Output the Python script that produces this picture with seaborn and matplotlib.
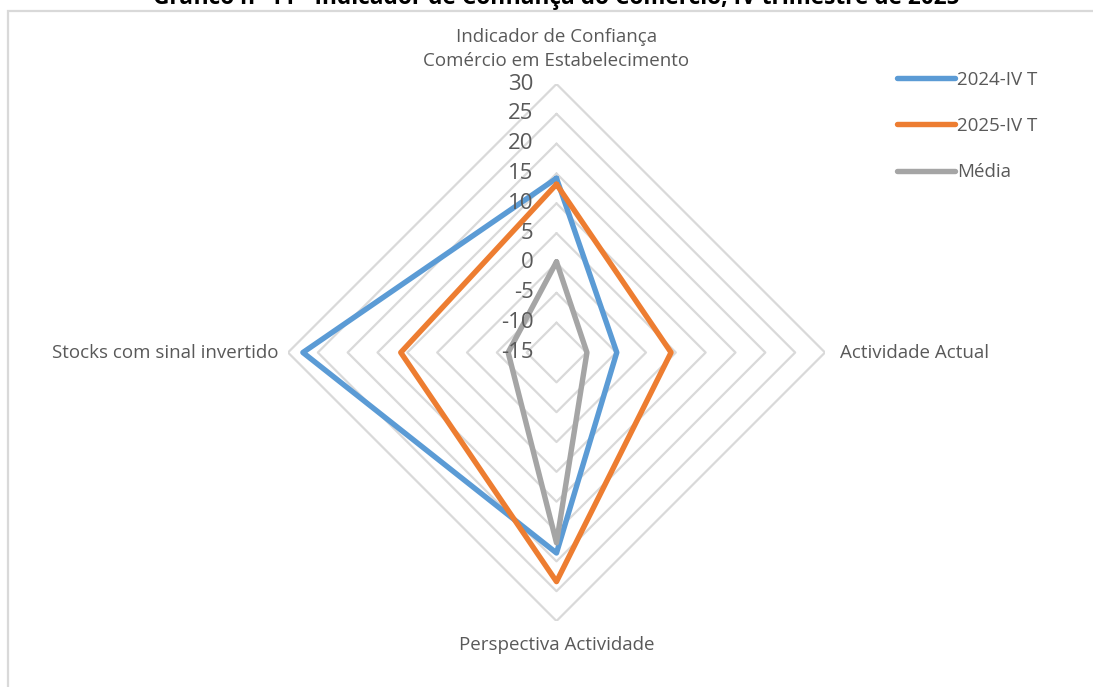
import numpy as np
import pandas as pd
import matplotlib
matplotlib.use("Agg")
import matplotlib.pyplot as plt
import matplotlib.transforms as mtransforms
import seaborn as sns

# dados
categorias = ["Indicador de Confiança\nComércio em Estabelecimento", "Actividade Actual",
              "Perspectiva Actividade", "Stocks com sinal invertido"]
series = ["2024-IV T", "2025-IV T", "Média"]
v2024 = [14.2, -4.9, 18.6, 27.5]
v2025 = [13.2, 4.2, 23.4, 11.1]
media = [0.2, -9.9, 16.9, -6.9]
aneis = [-15, -10, -5, 0, 5, 10, 15, 20, 25, 30]

cores = {"2024-IV T": "#5b9bd5", "2025-IV T": "#ed7d31", "Média": "#a5a5a5"}
cinza_txt = "#595959"

sns.set_style("white")
plt.rcParams["font.family"] = ["Open Sans", "DejaVu Sans"]

theta = np.arange(len(categorias)) * np.pi / 2
theta_fechado = np.append(theta, 2 * np.pi)

linhas = []
for nome, vals in zip(series, [v2024, v2025, media]):
    for t, v in zip(theta_fechado, vals + vals[:1]):
        linhas.append({"serie": nome, "theta": t, "valor": v})
df = pd.DataFrame(linhas)

fig = plt.figure(figsize=(10.93, 6.87), dpi=100)
W, H = 1093, 687
cx, cy, rad = 556.5, 352.5, 268.5
ax = fig.add_axes([(cx - rad) / W, (H - cy - rad) / H, 2 * rad / W, 2 * rad / H],
                  projection="polar")
ax.set_theta_zero_location("N")
ax.set_theta_direction(-1)
ax.set_ylim(-15, 30)
ax.grid(False)
ax.spines["polar"].set_visible(False)
ax.set_xticks([])
ax.set_yticks([])
ax.patch.set_alpha(0)

# grelha em losango (sem raios)
for r in aneis[1:]:
    ax.plot(theta_fechado, [r] * len(theta_fechado), color="#d9d9d9", lw=1.6, zorder=1)

sns.lineplot(data=df, x="theta", y="valor", hue="serie", palette=cores, sort=False,
             estimator=None, lw=3.9, ax=ax, zorder=3, legend=True)
ax.set_xlabel("")
ax.set_ylabel("")

off = mtransforms.offset_copy(ax.transData, fig=fig, x=-23, y=0, units="dots")
for r in aneis:
    ax.text(0, r, str(r), transform=off, ha="right", va="center",
            fontsize=16, color=cinza_txt, zorder=5)

fs = 13.5
fig.text(cx / W, 1 - 49 / H, categorias[0], ha="center", va="center",
         fontsize=fs, color=cinza_txt, linespacing=1.45)
fig.text(840 / W, 1 - cy / H, categorias[1], ha="left", va="center",
         fontsize=fs, color=cinza_txt)
fig.text(cx / W, 1 - 645 / H, categorias[2], ha="center", va="center",
         fontsize=fs, color=cinza_txt)
fig.text(279 / W, 1 - cy / H, categorias[3], ha="right", va="center",
         fontsize=fs, color=cinza_txt)

leg = ax.get_legend()
handles = leg.legend_handles
leg.remove()
fig.legend(handles, series, loc="upper left", bbox_to_anchor=(880 / W, 1 - 54 / H),
           frameon=False, fontsize=fs, handlelength=3.1, handletextpad=0.1,
           labelspacing=1.5, labelcolor=cinza_txt)

# moldura e título cortado
fig.patches.append(plt.Rectangle((8 / W, -0.05), 1.1, 1.05 - 11 / H, transform=fig.transFigure,
                                 fill=False, edgecolor="#d9d9d9", lw=1.6))
fig.text(556 / W, 1 - 4 / H,
         "Gráfico nº 11 - Indicador de Confiança do Comércio, IV trimestre de 2025",
         ha="center", va="baseline", fontsize=16.3, fontweight="bold", color="black")

fig.savefig("out.png", dpi=100)
